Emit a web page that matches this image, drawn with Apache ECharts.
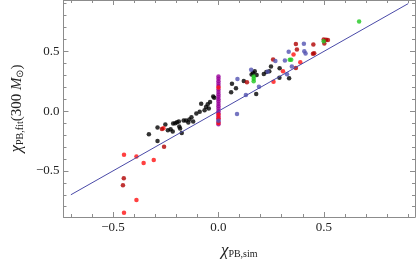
<!DOCTYPE html>
<html><head><meta charset="utf-8">
<script src="https://cdn.jsdelivr.net/npm/echarts@6/dist/echarts.min.js"></script>
<style>html,body{margin:0;padding:0;background:#fff}#c{width:416px;height:264px}</style>
</head><body><div id="c"></div>
<script>
const xRange = [-0.735, 0.932];
const yRange = [-0.886, 0.93];
const xMajorTicks = [-0.5, 0, 0.5];
const xMinorTicks = [-0.7,-0.6,-0.4,-0.3,-0.2,-0.1,0.1,0.2,0.3,0.4,0.6,0.7,0.8,0.9];
const yMajorTicks = [-0.5, 0, 0.5];
const yMinorTicks = [-0.8,-0.7,-0.6,-0.4,-0.3,-0.2,-0.1,0.1,0.2,0.3,0.4,0.6,0.7,0.8,0.9];

const lineX = [-0.7, 0.9];
const lineY = [-0.7, 0.9];

const blackPts = [
 [-0.330,-0.193],[-0.289,-0.136],[-0.289,-0.250],[-0.252,-0.111],[-0.240,-0.160],
 [-0.227,-0.152],[-0.217,-0.171],[-0.215,-0.103],[-0.205,-0.101],[-0.197,-0.093],
 [-0.188,-0.087],[-0.186,-0.128],[-0.182,-0.146],[-0.174,-0.182],[-0.165,-0.079],
 [-0.154,-0.079],[-0.143,-0.095],[-0.138,-0.071],[-0.128,-0.052],[-0.120,-0.087],
 [-0.105,-0.020],[-0.089,-0.006],[-0.082,0.062],[-0.066,0.008],[-0.059,0.035],
 [-0.051,0.057],[-0.046,0.021],[-0.040,0.076],[-0.025,0.122],[-0.020,0.112],
 [0.060,0.157],[0.064,0.230],[0.083,0.192],[0.120,0.252],[0.157,0.306],
 [0.164,0.320],[0.172,0.333],[0.181,0.303],[0.179,0.143],[0.215,0.311],
 [0.227,0.328],[0.241,0.333],[0.249,0.374],[0.290,0.358],[0.289,0.279],[0.335,0.276]
];
const purplePts = [
 [0,0.29],[0,0.27],[0,0.25],[0,0.23],[0,0.21],[0,0.18],[0,0.16],[0,0.14],[0,0.12],[0,0.10],
 [0,0.08],[0,0.06],[0,0.04],[0,0.02],[0,0.00],[0,-0.02],[0,-0.045],[0,-0.065],[0,-0.09],[0,-0.11]
];
const redPts = [
 [-0.448,-0.366],[-0.389,-0.380],[-0.355,-0.434],[-0.307,-0.410],[-0.389,-0.743],[-0.448,-0.851],
 [-0.261,-0.144],[0,0.198],[0,-0.03],[0,-0.06],[0,-0.10],
 [0.261,0.246],[0.306,0.333],[0.356,0.474],[0.388,0.409]
];
const darkRedPts = [
 [-0.449,-0.561],[-0.453,-0.621],[-0.258,-0.298],[-0.268,-0.150],
 [0.135,0.241],[0.259,0.433],[0.367,0.561],[0.372,0.515],[0.367,0.360],
 [0.450,0.558],[0.454,0.485],[0.448,0.480],[0.499,0.600],[0.510,0.598],[0.519,0.596],[0.502,0.566]
];
const bluePts = [
 [0.090,0.268],[0.088,-0.024],[0.130,0.135],[0.155,0.346],[0.192,0.203],[0.233,0.330],
 [0.270,0.420],[0.315,0.423],[0.333,0.496],[0.348,0.374],[0.325,0.309],[0.405,0.563],
 [0.407,0.501],[0.413,0.482],[0,-0.08]
];
const greenPts = [
 [0.667,0.750],[0.499,0.585],[0.338,0.431],[0.345,0.431],[0.167,0.29],[0.167,0.27],[0.167,0.25]
];

const frameColor = '#8c8c8c';
const serif = "'Liberation Serif', 'Times New Roman', serif";
function fmt(v){ const s = Math.abs(v).toFixed(1); return v < 0 ? '\u2212' + s : s; }

function xAxisDef(pos, ticks, len, main){
  return {
    type:'value', min:xRange[0], max:xRange[1], position:pos, gridIndex:0,
    axisLine:{show:main, onZero:false, lineStyle:{color:frameColor, width:1}},
    axisTick:{show:true, inside:true, length:len, customValues:ticks, lineStyle:{color:frameColor, width:1}},
    axisLabel:{show:(main && pos==='bottom'), customValues:ticks, formatter:fmt, margin:4,
      fontFamily:serif, fontSize:13, color:'#222'},
    splitLine:{show:false}
  };
}
function yAxisDef(pos, ticks, len, main){
  return {
    type:'value', min:yRange[0], max:yRange[1], position:pos, gridIndex:0,
    axisLine:{show:main, onZero:false, lineStyle:{color:frameColor, width:1}},
    axisTick:{show:true, inside:true, length:len, customValues:ticks, lineStyle:{color:frameColor, width:1}},
    axisLabel:{show:(main && pos==='left'), customValues:ticks, formatter:fmt, margin:4,
      fontFamily:serif, fontSize:13, color:'#222'},
    splitLine:{show:false}
  };
}

const xAxes = [
  xAxisDef('bottom', xMajorTicks, 5, true),
  xAxisDef('bottom', xMinorTicks, 3, false),
  xAxisDef('top', xMajorTicks, 5, true),
  xAxisDef('top', xMinorTicks, 3, false)
];
xAxes[0].name = '{chi|\u03c7}{sub|PB,sim}';
xAxes[0].nameLocation = 'middle';
xAxes[0].nameGap = 24;
xAxes[0].nameTextStyle = {
  rich:{
    chi:{fontFamily:serif, fontStyle:'italic', fontSize:17, color:'#222', verticalAlign:'bottom', lineHeight:18},
    sub:{fontFamily:serif, fontSize:10, color:'#222', verticalAlign:'bottom', lineHeight:11}
  }
};
const yAxes = [
  yAxisDef('left', yMajorTicks, 5, true),
  yAxisDef('left', yMinorTicks, 3, false),
  yAxisDef('right', yMajorTicks, 5, true),
  yAxisDef('right', yMinorTicks, 3, false)
];
yAxes[0].name = '{chi|\u03c7}{sub|PB,fit}{n|(300 }{m|M}{sub|\u2299}{n|)}';
yAxes[0].nameLocation = 'middle';
yAxes[0].nameRotate = 90;
yAxes[0].nameGap = 34;
yAxes[0].nameTextStyle = {
  rich:{
    chi:{fontFamily:serif, fontStyle:'italic', fontSize:17, color:'#222', verticalAlign:'bottom', lineHeight:18},
    sub:{fontFamily:serif, fontSize:10, color:'#222', verticalAlign:'bottom', lineHeight:11},
    n:{fontFamily:serif, fontSize:15, color:'#222', verticalAlign:'bottom', lineHeight:17},
    m:{fontFamily:serif, fontStyle:'italic', fontSize:15, color:'#222', verticalAlign:'bottom', lineHeight:17}
  }
};

function sc(data, color){
  return {type:'scatter', xAxisIndex:0, yAxisIndex:0, data:data, symbol:'circle', symbolSize:4.5,
    itemStyle:{color:color}, silent:true, animation:false};
}

const chart = echarts.init(document.getElementById('c'), null, {renderer:'canvas'});
chart.setOption({
  animation:false,
  backgroundColor:'#fff',
  grid:{left:53, right:1, top:0, bottom:41, containLabel:false},
  xAxis:xAxes,
  yAxis:yAxes,
  series:[
    {type:'line', xAxisIndex:0, yAxisIndex:0, data:lineX.map((x,i)=>[x,lineY[i]]), showSymbol:false,
      lineStyle:{color:'#4a4aa8', width:1}, silent:true, animation:false},
    sc(purplePts, '#990099'),
    sc(blackPts, '#000000'),
    sc(redPts, '#ff1010'),
    sc(darkRedPts, '#b00000'),
    sc(bluePts, '#5252b2'),
    sc(greenPts, '#1ec81e')
  ]
});
</script></body></html>
